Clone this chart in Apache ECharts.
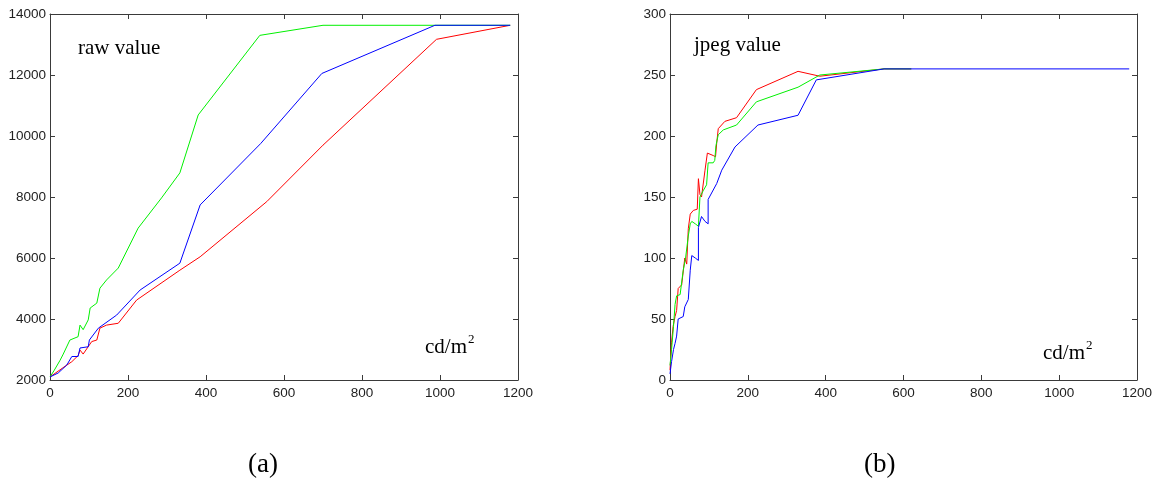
<!DOCTYPE html>
<html>
<head>
<meta charset="utf-8">
<script src="https://cdn.jsdelivr.net/npm/echarts@6/dist/echarts.min.js"></script>
<style>
  html, body { margin: 0; padding: 0; background: #fff; }
  #main { width: 1159px; height: 486px; }
</style>
</head>
<body>
<div id="main"></div>
<script>
// x = cd/m^2, y = value
var rawRed = [[0,2100],[33,2400],[56,2600],[72,2800],[77,2980],[85,2850],[107,3260],[120,3310],[128,3700],[145,3800],[175,3860],[222,4620],[333,5600],[385,6040],[556,7850],[700,9700],[991,13170],[1180,13630]];
var rawGreen = [[0,2100],[10,2300],[26,2650],[34,2850],[51,3310],[72,3420],[77,3800],[85,3650],[98,3970],[103,4360],[120,4520],[128,5010],[145,5280],[175,5670],[226,6980],[286,7970],[333,8790],[380,10690],[538,13300],[700,13630],[1180,13630]];
var rawBlue = [[0,2100],[21,2230],[43,2490],[56,2770],[72,2770],[77,3050],[98,3090],[101,3310],[124,3700],[171,4130],[231,4950],[333,5830],[385,7740],[540,9750],[697,12050],[987,13630],[1180,13630]];

var jpegRed = [[0,8],[4,31],[8,44],[13,52],[17,57],[21,75],[30,78],[34,77],[38,100],[43,95],[47,124],[52,136],[60,139],[70,140],[73,165],[77,152],[81,150],[90,172],[96,186],[111,184],[117,183],[120,194],[124,206],[141,212],[171,215],[222,238],[329,253],[385,249],[550,255],[620,255]];
var jpegGreen = [[0,12],[4,25],[9,44],[13,62],[17,69],[26,70],[34,90],[40,100],[47,118],[52,128],[56,130],[65,128],[73,126],[77,150],[85,155],[94,160],[98,178],[111,178],[115,180],[118,192],[124,201],[137,205],[171,209],[222,228],[329,240],[385,250],[550,255],[620,255]];
var jpegBlue = [[0,5],[4,15],[9,25],[13,30],[17,36],[21,50],[34,52],[38,60],[47,66],[52,90],[56,102],[65,100],[73,98],[73,125],[81,134],[90,130],[98,128],[98,148],[120,161],[133,172],[167,191],[226,209],[329,217],[376,246],[550,255],[1180,255]];

var xRange = [0, 1200, 200];
var rawRange = [2000, 14000, 2000];
var jpegRange = [0, 300, 50];

var axisColor = '#3a3a3a';
var labelFont = { fontFamily: 'Liberation Sans', fontSize: 13.5, color: '#222' };

function mkAxis(type, grid, pos, range, labels) {
  return {
    type: 'value', gridIndex: grid, position: pos,
    min: range[0], max: range[1], interval: range[2],
    axisLine: { show: true, onZero: false, lineStyle: { color: axisColor, width: 1 } },
    axisTick: { show: true, inside: true, length: 5, lineStyle: { color: axisColor } },
    axisLabel: Object.assign({
      show: labels, margin: type === 'x' ? 6 : 4,
      formatter: function (v) { return String(v); }
    }, labelFont),
    splitLine: { show: false }
  };
}

function mkLine(data, color, xi, yi) {
  return {
    type: 'line', data: data, xAxisIndex: xi, yAxisIndex: yi,
    showSymbol: false, symbol: 'none', animation: false,
    lineStyle: { color: color, width: 1 }, z: 3
  };
}

var chart = echarts.init(document.getElementById('main'));
chart.setOption({
  animation: false,
  grid: [
    { left: 50, top: 14, width: 468, height: 366 },
    { left: 670, top: 14, width: 467, height: 366 }
  ],
  xAxis: [
    mkAxis('x', 0, 'bottom', xRange, true),
    mkAxis('x', 0, 'top', xRange, false),
    mkAxis('x', 1, 'bottom', xRange, true),
    mkAxis('x', 1, 'top', xRange, false)
  ],
  yAxis: [
    mkAxis('y', 0, 'left', rawRange, true),
    mkAxis('y', 0, 'right', rawRange, false),
    mkAxis('y', 1, 'left', jpegRange, true),
    mkAxis('y', 1, 'right', jpegRange, false)
  ],
  series: [
    mkLine(rawRed, '#ff0000', 0, 0),
    mkLine(rawGreen, '#00f000', 0, 0),
    mkLine(rawBlue, '#0000ff', 0, 0),
    mkLine(jpegRed, '#ff0000', 2, 2),
    mkLine(jpegGreen, '#00f000', 2, 2),
    mkLine(jpegBlue, '#0000ff', 2, 2)
  ],
  graphic: [
    { type: 'text', left: 78, top: 38, style: { text: 'raw value', font: '21px "Liberation Serif"', fill: '#000' } },
    { type: 'text', left: 694, top: 35, style: { text: 'jpeg value', font: '21px "Liberation Serif"', fill: '#000' } },
    { type: 'text', left: 425, top: 337, style: { text: 'cd/m', font: '21px "Liberation Serif"', fill: '#000' } },
    { type: 'text', left: 468, top: 333, style: { text: '2', font: '13px "Liberation Serif"', fill: '#000' } },
    { type: 'text', left: 1043, top: 343, style: { text: 'cd/m', font: '21px "Liberation Serif"', fill: '#000' } },
    { type: 'text', left: 1086, top: 339, style: { text: '2', font: '13px "Liberation Serif"', fill: '#000' } },
    { type: 'text', left: 248, top: 451, style: { text: '(a)', font: '27px "Liberation Serif"', fill: '#000' } },
    { type: 'text', left: 864, top: 451, style: { text: '(b)', font: '27px "Liberation Serif"', fill: '#000' } }
  ]
});
</script>
</body>
</html>
